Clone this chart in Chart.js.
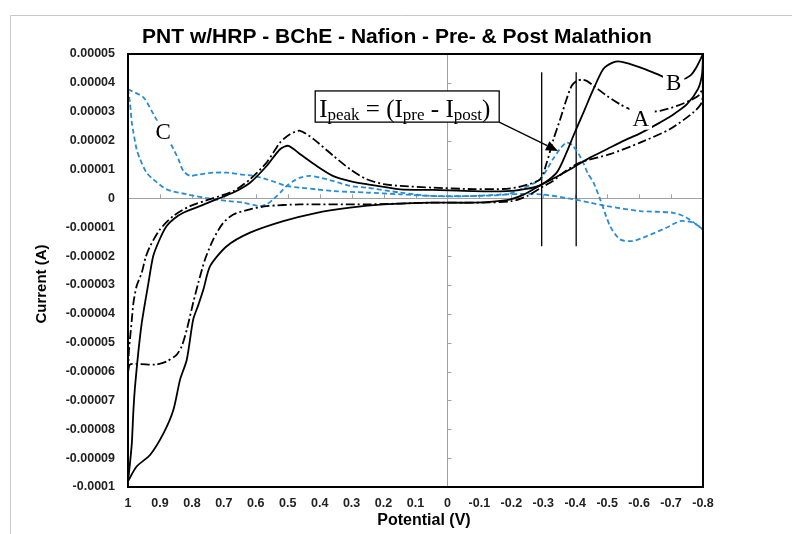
<!DOCTYPE html>
<html>
<head>
<meta charset="utf-8">
<title>PNT w/HRP - BChE - Nafion - Pre- & Post Malathion</title>
<script src="https://cdn.jsdelivr.net/npm/chart.js@4.4.1/dist/chart.umd.min.js"></script>
<style>
  html, body { margin: 0; padding: 0; background: #fff; }
  #wrap { width: 792px; height: 534px; }
</style>
</head>
<body>
<div id="wrap"><canvas id="cvChart" width="792" height="534"></canvas></div>
<script>
// Potentials in V, currents in units of 1e-5 A

// solid trace: scan from +1 V to -0.8 V, then back
const solidFwdV = [1.0, 0.994, 0.988, 0.983, 0.978, 0.968, 0.957, 0.936, 0.921, 0.9, 0.879, 0.855, 0.827, 0.775, 0.722, 0.67, 0.618, 0.566, 0.524, 0.498, 0.461, 0.409, 0.357, 0.305, 0.253, 0.148, 0.044, -0.08, -0.186, -0.237, -0.29, -0.342, -0.373, -0.394, -0.426, -0.457, -0.488, -0.519, -0.546, -0.603, -0.655, -0.69, -0.73, -0.76, -0.78, -0.8];
const solidFwdI = [-9.8, -9.2, -8.48, -7.33, -6.52, -5.36, -4.32, -2.93, -2.0, -1.4, -0.96, -0.7, -0.5, -0.27, -0.03, 0.2, 0.54, 1.12, 1.7, 1.82, 1.53, 1.12, 0.77, 0.6, 0.49, 0.31, 0.29, 0.25, 0.25, 0.31, 0.45, 0.89, 1.59, 2.16, 2.98, 3.78, 4.48, 4.71, 4.73, 4.54, 4.31, 4.15, 4.1, 4.25, 4.55, 5.0];
const solidRevV = [-0.8, -0.797, -0.785, -0.75, -0.7, -0.666, -0.603, -0.551, -0.499, -0.446, -0.394, -0.342, -0.29, -0.237, -0.186, -0.081, 0.044, 0.2, 0.305, 0.409, 0.514, 0.618, 0.691, 0.743, 0.764, 0.78, 0.796, 0.816, 0.837, 0.858, 0.889, 0.931, 0.973, 1.0];
const solidRevI = [5.0, 4.3, 3.8, 3.26, 2.85, 2.63, 2.25, 1.99, 1.7, 1.41, 1.07, 0.75, 0.45, 0.12, -0.06, -0.15, -0.15, -0.21, -0.32, -0.5, -0.79, -1.19, -1.66, -2.35, -3.16, -3.7, -4.2, -5.59, -6.28, -7.33, -8.14, -8.89, -9.29, -9.8];

// dash-dot trace
const dashFwdV = [1.0, 0.997, 0.993, 0.988, 0.983, 0.973, 0.957, 0.945, 0.931, 0.9, 0.858, 0.806, 0.743, 0.67, 0.618, 0.566, 0.524, 0.493, 0.461, 0.419, 0.357, 0.305, 0.253, 0.2, 0.148, 0.044, -0.08, -0.186, -0.237, -0.29, -0.311, -0.332, -0.353, -0.373, -0.389, -0.405, -0.42, -0.436, -0.457, -0.499, -0.54, -0.572, -0.62, -0.666, -0.718, -0.765, -0.79, -0.8];
const dashFwdI = [-6.05, -5.24, -4.78, -4.2, -3.62, -3.04, -2.58, -2.05, -1.66, -1.08, -0.61, -0.27, -0.03, 0.25, 0.66, 1.24, 1.93, 2.22, 2.34, 2.05, 1.47, 1.01, 0.66, 0.49, 0.43, 0.37, 0.32, 0.33, 0.43, 0.66, 1.24, 2.05, 2.74, 3.44, 3.9, 4.07, 4.11, 4.07, 3.9, 3.55, 3.26, 3.09, 3.0, 3.03, 3.2, 3.42, 3.6, 3.9];
const dashRevV = [-0.8, -0.796, -0.77, -0.697, -0.603, -0.509, -0.415, -0.37, -0.33, -0.29, -0.25, -0.2, -0.1, 0.044, 0.253, 0.461, 0.566, 0.618, 0.67, 0.702, 0.733, 0.759, 0.78, 0.796, 0.816, 0.832, 0.848, 0.879, 0.915, 0.962, 0.994, 1.0];
const dashRevI = [3.9, 3.32, 2.98, 2.4, 1.93, 1.53, 1.24, 0.95, 0.6, 0.35, 0.08, -0.1, -0.15, -0.15, -0.21, -0.21, -0.27, -0.38, -0.56, -0.85, -1.42, -2.12, -2.93, -3.62, -4.55, -5.13, -5.42, -5.65, -5.76, -5.74, -5.76, -6.05];

// blue dashed trace (C)
const blueFwdV = [1.0, 0.952, 0.926, 0.9, 0.863, 0.842, 0.827, 0.806, 0.775, 0.733, 0.691, 0.649, 0.608, 0.566, 0.503, 0.461, 0.409, 0.357, 0.253, 0.148, 0.044, -0.081, -0.186, -0.237, -0.29, -0.33, -0.355, -0.373, -0.39, -0.41, -0.425, -0.44, -0.457, -0.478, -0.509, -0.54, -0.58, -0.624, -0.687, -0.728, -0.769, -0.8];
const blueFwdI = [3.78, 3.5, 3.03, 2.51, 1.82, 1.35, 0.95, 0.78, 0.83, 0.89, 0.89, 0.83, 0.78, 0.66, 0.43, 0.37, 0.31, 0.25, 0.2, 0.14, 0.08, 0.08, 0.14, 0.35, 0.66, 1.35, 1.75, 1.93, 1.85, 1.55, 1.24, 0.85, 0.55, -0.03, -0.96, -1.42, -1.48, -1.31, -1.01, -0.79, -0.84, -1.08];
const blueRevV = [-0.8, -0.749, -0.707, -0.603, -0.499, -0.446, -0.394, -0.29, -0.186, -0.081, 0.044, 0.148, 0.253, 0.305, 0.357, 0.399, 0.43, 0.461, 0.482, 0.503, 0.519, 0.545, 0.566, 0.587, 0.639, 0.691, 0.743, 0.816, 0.879, 0.921, 0.942, 0.962, 0.973, 0.983, 0.988, 0.994, 1.0];
const blueRevI = [-1.08, -0.67, -0.5, -0.44, -0.27, -0.15, -0.03, 0.14, 0.14, 0.08, 0.08, 0.2, 0.37, 0.43, 0.6, 0.72, 0.78, 0.72, 0.6, 0.43, 0.25, -0.03, -0.21, -0.27, -0.15, -0.09, -0.01, 0.14, 0.31, 0.66, 0.89, 1.35, 1.7, 2.28, 2.63, 3.32, 3.78];

// the two vertical marker lines
const markerV = [-0.295, -0.403];
const markerI = [4.37, -1.66];

// curve letters
const letterText = ['A', 'B', 'C'];
const letterV = [-0.605, -0.708, 0.89];
const letterI = [2.76, 3.98, 2.31];

// axes
const xMin = -0.8, xMax = 1, xStep = 0.1;
const yMin = -0.0001, yMax = 0.00005, yStep = 0.00001;

const UNIT = 1e-5;
const toPoints = (vs, is) => vs.map((v, k) => ({ x: v, y: is[k] * UNIT }));

function curve(vs, is, color, dash) {
  return {
    data: toPoints(vs, is),
    showLine: true,
    borderColor: color,
    borderWidth: 1.8,
    borderDash: dash,
    pointRadius: 0,
    tension: 0.25,
    fill: false
  };
}

const datasets = [
  curve(solidFwdV, solidFwdI, '#000', []),
  curve(solidRevV, solidRevI, '#000', []),
  curve(dashFwdV, dashFwdI, '#000', [9, 3, 2, 3]),
  curve(dashRevV, dashRevI, '#000', [9, 3, 2, 3]),
  curve(blueFwdV, blueFwdI, '#2b8cd6', [5, 3]),
  curve(blueRevV, blueRevI, '#2b8cd6', [5, 3])
];
markerV.forEach(v => {
  datasets.push({
    data: toPoints([v, v], markerI),
    showLine: true,
    borderColor: '#000',
    borderWidth: 1.3,
    pointRadius: 0,
    tension: 0
  });
});

// annotation box "Ipeak = (Ipre - Ipost)" in data units
const peakBox = { left: 0.414, right: -0.162, top: 3.72, bottom: 2.64 };
const peakArrowTip = { v: -0.346, i: 1.64 };

const decor = {
  id: 'decor',
  beforeDraw(chart) {
    const c = chart.ctx;
    c.save();
    c.strokeStyle = '#c8c8c8';
    c.lineWidth = 1;
    c.beginPath();
    c.moveTo(10.5, 534);
    c.lineTo(10.5, 15.5);
    c.lineTo(792, 15.5);
    c.stroke();
    c.restore();
  },
  beforeDatasetsDraw(chart) {
    // small tick marks on the zero lines
    const c = chart.ctx, sx = chart.scales.x, sy = chart.scales.y;
    const x0 = sx.getPixelForValue(0), y0 = sy.getPixelForValue(0);
    c.save();
    c.strokeStyle = '#a0a0a0';
    c.lineWidth = 1;
    c.beginPath();
    sx.ticks.forEach(t => {
      const px = Math.round(sx.getPixelForValue(t.value)) + 0.5;
      c.moveTo(px, y0);
      c.lineTo(px, y0 - 4);
    });
    sy.ticks.forEach(t => {
      const py = Math.round(sy.getPixelForValue(t.value)) + 0.5;
      c.moveTo(x0, py);
      c.lineTo(x0 + 4, py);
    });
    c.stroke();
    c.restore();
  },
  afterDatasetsDraw(chart) {
    const c = chart.ctx, sx = chart.scales.x, sy = chart.scales.y;
    const a = chart.chartArea;
    c.save();

    // plot frame
    c.strokeStyle = '#000';
    c.lineWidth = 2;
    c.strokeRect(a.left, a.top, a.right - a.left, a.bottom - a.top);

    // letters A, B, C
    c.font = '23px "Liberation Serif"';
    c.textAlign = 'center';
    c.textBaseline = 'middle';
    letterText.forEach((t, k) => {
      const px = sx.getPixelForValue(letterV[k]);
      const py = sy.getPixelForValue(letterI[k] * UNIT);
      const w = c.measureText(t).width + 6;
      c.fillStyle = '#fff';
      c.fillRect(px - w / 2, py - 11, w, 22);
      c.fillStyle = '#000';
      c.fillText(t, px, py + 1);
    });

    // peak box
    const bl = sx.getPixelForValue(peakBox.left), br = sx.getPixelForValue(peakBox.right);
    const bt = sy.getPixelForValue(peakBox.top * UNIT), bb = sy.getPixelForValue(peakBox.bottom * UNIT);
    c.fillStyle = '#fff';
    c.fillRect(bl, bt, br - bl, bb - bt);
    c.lineWidth = 1.3;
    c.strokeRect(bl, bt, br - bl, bb - bt);
    const parts = [['I', 0], ['peak', 1], [' = (I', 0], ['pre', 1], [' - I', 0], ['post', 1], [')', 0]];
    let tx = bl + 4;
    c.textAlign = 'left';
    c.textBaseline = 'alphabetic';
    c.fillStyle = '#000';
    parts.forEach(([t, sub]) => {
      c.font = sub ? '17px "Liberation Serif"' : '25px "Liberation Serif"';
      c.fillText(t, tx, sub ? bb - 2 : bb - 5);
      tx += c.measureText(t).width;
    });

    // arrow
    const ax = sx.getPixelForValue(peakArrowTip.v), ay = sy.getPixelForValue(peakArrowTip.i * UNIT);
    const sxp = br, syp = bb;
    const ang = Math.atan2(ay - syp, ax - sxp);
    const hl = 12, hw = 5;
    const bx = ax - hl * Math.cos(ang), by = ay - hl * Math.sin(ang);
    c.strokeStyle = '#000';
    c.lineWidth = 1.3;
    c.beginPath();
    c.moveTo(sxp, syp);
    c.lineTo(bx, by);
    c.stroke();
    c.beginPath();
    c.moveTo(ax, ay);
    c.lineTo(bx + hw * Math.sin(ang), by - hw * Math.cos(ang));
    c.lineTo(bx - hw * Math.sin(ang), by + hw * Math.cos(ang));
    c.closePath();
    c.fill();

    // chart title and axis titles
    c.textAlign = 'center';
    c.textBaseline = 'middle';
    c.font = 'bold 21px "Liberation Sans"';
    c.fillText('PNT w/HRP - BChE - Nafion - Pre- & Post Malathion', 397, 37);
    c.font = 'bold 16px "Liberation Sans"';
    c.fillText('Potential (V)', 424, 521);
    c.translate(42, 284);
    c.rotate(-Math.PI / 2);
    c.font = 'bold 15px "Liberation Sans"';
    c.fillText('Current (A)', 0, 0);
    c.restore();
  }
};

const tickFont = { family: 'Liberation Sans', size: 12.5, weight: 'bold' };
const zeroGrid = (ctx) => (ctx.tick && Math.abs(ctx.tick.value) < 1e-12) ? '#a0a0a0' : 'rgba(0,0,0,0)';

new Chart(document.getElementById('cvChart'), {
  type: 'scatter',
  data: { datasets: datasets },
  options: {
    responsive: false,
    animation: false,
    events: [],
    layout: { padding: { left: 32, right: 89, top: 54, bottom: 4 } },
    plugins: {
      legend: { display: false },
      tooltip: { enabled: false },
      title: { display: false }
    },
    scales: {
      x: {
        type: 'linear',
        reverse: true,
        min: xMin,
        max: xMax,
        ticks: {
          stepSize: xStep,
          autoSkip: false,
          maxRotation: 0,
          padding: 9,
          color: '#222',
          font: tickFont,
          callback: v => String(Math.round(v * 10) / 10)
        },
        grid: { color: zeroGrid, drawTicks: false, lineWidth: 1 },
        border: { display: false },
        title: { display: false },
        afterFit: s => { s.height = 43; }
      },
      y: {
        type: 'linear',
        min: yMin,
        max: yMax,
        ticks: {
          stepSize: yStep,
          autoSkip: false,
          padding: 13,
          color: '#222',
          font: tickFont,
          callback: v => String(Math.round(v * 1e5) / 1e5)
        },
        grid: { color: zeroGrid, drawTicks: false, lineWidth: 1 },
        border: { display: false },
        title: { display: false },
        afterFit: s => { s.width = 96; }
      }
    }
  },
  plugins: [decor]
});
</script>
</body>
</html>
